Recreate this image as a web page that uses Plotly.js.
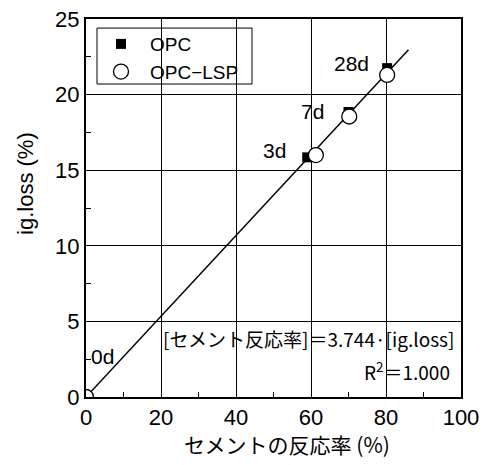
<!DOCTYPE html>
<html>
<head>
<meta charset="utf-8">
<script src="https://cdn.plot.ly/plotly-3.0.1.min.js"></script>
<style>html,body{margin:0;padding:0;background:#fff;}#chart{width:490px;height:465px;}</style>
</head>
<body>
<div id="chart"></div>
<script>
var ages = ["0d", "3d", "7d", "28d"];
var opcX = [0, 59.0, 70.0, 80.3];
var opcY = [0, 15.85, 18.85, 21.75];
var lspX = [0, 61.3, 70.2, 80.3];
var lspY = [0, 16.0, 18.55, 21.3];
var slope = 3.744;
var fitX = [0, 86];
var fitY = fitX.map(function (v) { return v / slope; });
var labelShift = [[3, 41, 'left'], [-19, 7, 'right'], [-23, 0, 'right'], [-16, 5, 'right']];

var FONT = 'Liberation Sans, Arial, Noto Sans CJK JP, sans-serif';
var JFONT = 'Noto Sans CJK JP, sans-serif';

var traces = [
  {x: fitX, y: fitY, mode: 'lines', line: {color: '#000', width: 1.5}, showlegend: false, hoverinfo: 'skip'},
  {x: opcX, y: opcY, mode: 'markers', name: 'OPC', marker: {symbol: 'square', size: 10, color: '#000'}, cliponaxis: true},
  {x: lspX, y: lspY, mode: 'markers', name: 'OPC−LSP', marker: {symbol: 'circle', size: 15, color: '#fff', line: {color: '#000', width: 1.3}}, cliponaxis: true}
];

var annotations = ages.map(function (a, i) {
  return {x: opcX[i], y: opcY[i], text: a, showarrow: false, xanchor: labelShift[i][2], yanchor: 'middle',
    xshift: labelShift[i][0], yshift: labelShift[i][1], font: {size: 21, color: '#000', family: FONT}};
});
annotations.push({x: 98.6, y: 3.9, text: '[セメント反応率]＝3.744·[ig.loss]', showarrow: false, xanchor: 'right', yanchor: 'middle',
  font: {size: 19, color: '#000', family: JFONT}});
annotations.push({x: 97.6, y: 1.75, text: 'R<sup>2</sup>＝1.000', showarrow: false, xanchor: 'right', yanchor: 'middle',
  font: {size: 19, color: '#000', family: JFONT}});
// y-axis title (placed as annotation to match the reference's offset position)
annotations.push({xref: 'paper', yref: 'paper', x: -0.163, y: 0.566, xanchor: 'center', yanchor: 'middle', textangle: -90,
  showarrow: false, text: 'ig.loss (%)', font: {size: 22, color: '#000', family: FONT}});
// x-axis title
annotations.push({xref: 'paper', yref: 'paper', x: (287 - 86) / 375, y: -0.124, xanchor: 'center', yanchor: 'middle',
  showarrow: false, text: 'セメントの反応率 (%)', font: {size: 21, color: '#000', family: JFONT}});

var axisCommon = {
  showgrid: true, gridcolor: '#000', gridwidth: 1,
  showline: true, linecolor: '#000', linewidth: 2, mirror: true,
  ticks: '', zeroline: false,
  tickfont: {size: 22, color: '#000', family: FONT},
  minor: {ticks: 'inside', ticklen: 5, tickcolor: '#000', tickwidth: 1, showgrid: false}
};

var layout = {
  width: 490, height: 465,
  margin: {l: 86, r: 29, t: 19, b: 68},
  paper_bgcolor: '#fff', plot_bgcolor: '#fff',
  font: {family: FONT, color: '#000'},
  xaxis: Object.assign({}, axisCommon, {range: [0, 100], dtick: 20, tick0: 0,
    minor: Object.assign({}, axisCommon.minor, {dtick: 10})}),
  yaxis: Object.assign({}, axisCommon, {range: [0, 25], dtick: 5, tick0: 0,
    minor: Object.assign({}, axisCommon.minor, {dtick: 2.5})}),
  legend: {x: 0.016, y: 0.984, xanchor: 'left', yanchor: 'top', bgcolor: 'rgba(0,0,0,0)', borderwidth: 0,
    font: {size: 19, color: '#000', family: FONT}, itemwidth: 48, tracegroupgap: 0},
  shapes: [{type: 'rect', xref: 'paper', yref: 'paper', x0: 0.0293, x1: 0.4427, y0: 0.828, y1: 0.976,
    line: {color: '#000', width: 1}, fillcolor: '#fff', layer: 'between'}],
  annotations: annotations,
  showlegend: true
};

Plotly.newPlot('chart', traces, layout, {displayModeBar: false, staticPlot: true});
</script>
</body>
</html>
